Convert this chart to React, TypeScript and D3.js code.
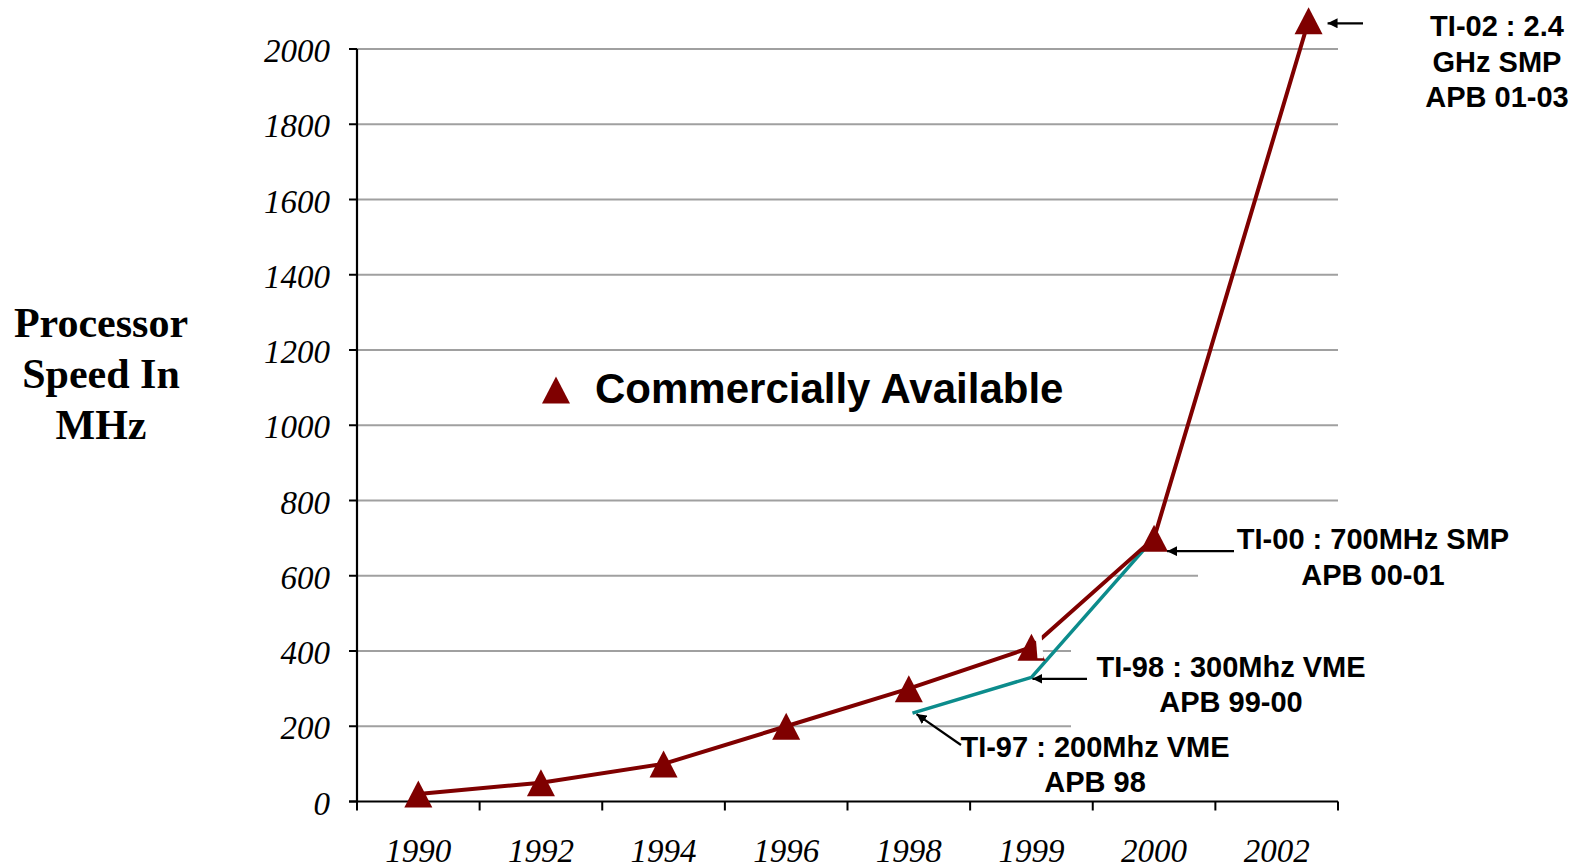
import React from "react";
import * as d3 from "d3";

// Category labels along the bottom axis
const years = ["1990", "1992", "1994", "1996", "1998", "1999", "2000", "2002"];

// Commercially available processor speeds (MHz); slot = position in category units
const commercialSlot = [0, 1, 2, 3, 4, 5, 6, 7.26];
const commercialMHz = [20, 50, 100, 200, 300, 410, 700, 2075];

// TI systems series (teal)
const tiSlot = [4.03, 5, 6];
const tiMHz = [235, 330, 700];

// Y axis tick values
const yTickValues = [0, 200, 400, 600, 800, 1000, 1200, 1400, 1600, 1800, 2000];

const W = 1581;
const H = 868;
const SERIF = '"Liberation Serif", "Times New Roman", serif';
const SANS = '"Liberation Sans", Arial, Helvetica, sans-serif';
const RED = "#7f0000";
const TEAL = "#0c8c8c";
const GRID = "#a0a0a0";

const x = d3.scaleLinear().domain([-0.5, years.length - 0.5]).range([357, 1338]);
const y = d3.scaleLinear().domain([0, 2000]).range([801.5, 49]);

const tri = (cx: number, cy: number) =>
  `M${cx},${cy - 13.5}L${cx + 14},${cy + 13.5}L${cx - 14},${cy + 13.5}Z`;

type Pt = [number, number];
const lineGen = d3.line<Pt>().x((d) => d[0]).y((d) => d[1]);

const commercialPts: Pt[] = commercialSlot.map((s, i) => [x(s), y(commercialMHz[i])]);
const tiPts: Pt[] = tiSlot.map((s, i) => [x(s), y(tiMHz[i])]);

type Note = {
  lines: string[];
  cx: number;
  base: number;
  gap: number;
  size: number;
  from: Pt;
  to: Pt;
  box?: [number, number, number, number];
};

const p2002 = commercialPts[7];
const p2000 = commercialPts[6];
const t1999 = tiPts[1];
const t1998 = tiPts[0];

const notes: Note[] = [
  {
    lines: ["TI-02 : 2.4", "GHz SMP", "APB 01-03"],
    cx: 1497, base: 36, gap: 35.7, size: 29,
    from: [1363, p2002[1] + 2.5], to: [p2002[0] + 19, p2002[1] + 2.5],
  },
  {
    lines: ["TI-00 : 700MHz SMP", "APB 00-01"],
    cx: 1373, base: 549, gap: 36, size: 29,
    from: [1234, p2000[1] + 13], to: [p2000[0] + 13, p2000[1] + 13],
    box: [1198, 512, 350, 84],
  },
  {
    lines: ["TI-98 : 300Mhz VME", "APB 99-00"],
    cx: 1231, base: 676.7, gap: 35, size: 29,
    from: [1087, t1999[1] + 1.5], to: [t1999[0] + 1, t1999[1] + 1.5],
    box: [1071, 641, 310, 88],
  },
  {
    lines: ["TI-97 : 200Mhz VME", "APB 98"],
    cx: 1095, base: 756.7, gap: 35, size: 29,
    from: [961, 745], to: [t1998[0] + 4, t1998[1] + 1],
  },
];

export default function App() {
  const p1999 = commercialPts[5];
  const notch: Pt[] = [
    [p1999[0] + 4, p1999[1] - 14],
    [p1999[0] + 10, p1999[1] - 14],
    [p1999[0] + 12, p1999[1] + 11],
    [p1999[0] + 6, p1999[1] + 11],
  ];
  const bandEdges = d3.range(years.length + 1).map((i) => x(i - 0.5));

  return (
    <svg
      width={W}
      height={H}
      style={{ position: "absolute", left: 0, top: 0, background: "#fff" }}
    >
      <defs>
        <marker
          id="arrowHead"
          viewBox="0 0 10 10"
          refX={10}
          refY={5}
          markerWidth={10}
          markerHeight={10}
          markerUnits="userSpaceOnUse"
          orient="auto"
        >
          <path d="M0,0L10,5L0,10Z" fill="#000" />
        </marker>
      </defs>
      <rect width={W} height={H} fill="#fff" />

      {/* horizontal gridlines */}
      {yTickValues.filter((v) => v > 0).map((v) => (
        <line key={v} x1={x.range()[0]} x2={x.range()[1]} y1={y(v)} y2={y(v)} stroke={GRID} strokeWidth={2} />
      ))}

      {/* white label boxes that sit over the grid */}
      {notes.filter((n) => n.box).map((n, i) => (
        <rect key={i} x={n.box![0]} y={n.box![1]} width={n.box![2]} height={n.box![3]} fill="#fff" />
      ))}

      {/* y axis */}
      <line x1={x.range()[0]} x2={x.range()[0]} y1={y(2000)} y2={y(0)} stroke="#000" strokeWidth={2.2} />
      {yTickValues.map((v) => (
        <g key={v}>
          <line x1={x.range()[0] - 8} x2={x.range()[0]} y1={y(v)} y2={y(v)} stroke="#000" strokeWidth={2} />
          <text x={330} y={y(v) + 13} textAnchor="end" fontFamily={SERIF} fontStyle="italic" fontSize={33} fill="#000">
            {v}
          </text>
        </g>
      ))}

      {/* x axis */}
      <line x1={x.range()[0] - 8} x2={x.range()[1]} y1={y(0)} y2={y(0)} stroke="#000" strokeWidth={2.2} />
      {bandEdges.map((bx, i) => (
        <line key={i} x1={bx} x2={bx} y1={y(0)} y2={y(0) + 9} stroke="#000" strokeWidth={2} />
      ))}
      {years.map((yr, i) => (
        <text key={yr} x={x(i)} y={862} textAnchor="middle" fontFamily={SERIF} fontStyle="italic" fontSize={33} fill="#000">
          {yr}
        </text>
      ))}

      {/* y axis title */}
      {["Processor", "Speed In", "MHz"].map((t, i) => (
        <text key={t} x={101} y={336.7 + i * 51} textAnchor="middle" fontFamily={SERIF} fontWeight="bold" fontSize={42} fill="#000">
          {t}
        </text>
      ))}

      {/* series lines */}
      <path d={lineGen(tiPts) ?? ""} fill="none" stroke={TEAL} strokeWidth={3.5} strokeLinejoin="round" />
      <path d={lineGen(commercialPts) ?? ""} fill="none" stroke={RED} strokeWidth={4} strokeLinejoin="round" />

      {/* markers */}
      {commercialPts.map((p, i) => (
        <path key={i} d={tri(p[0], p[1])} fill={RED} />
      ))}
      <polygon points={notch.map((p) => p.join(",")).join(" ")} fill="#fff" />

      {/* legend */}
      <path d={tri(556, 390)} fill={RED} />
      <text x={595} y={403} fontFamily={SANS} fontWeight="bold" fontSize={42} fill="#000">
        Commercially Available
      </text>

      {/* annotations */}
      {notes.map((n, i) => (
        <g key={i}>
          <line
            x1={n.from[0]} y1={n.from[1]} x2={n.to[0]} y2={n.to[1]}
            stroke="#000" strokeWidth={2.2} markerEnd="url(#arrowHead)"
          />
          {n.lines.map((t, j) => (
            <text
              key={j} x={n.cx} y={n.base + j * n.gap} textAnchor="middle"
              fontFamily={SANS} fontWeight="bold" fontSize={n.size} fill="#000"
            >
              {t}
            </text>
          ))}
        </g>
      ))}
    </svg>
  );
}
